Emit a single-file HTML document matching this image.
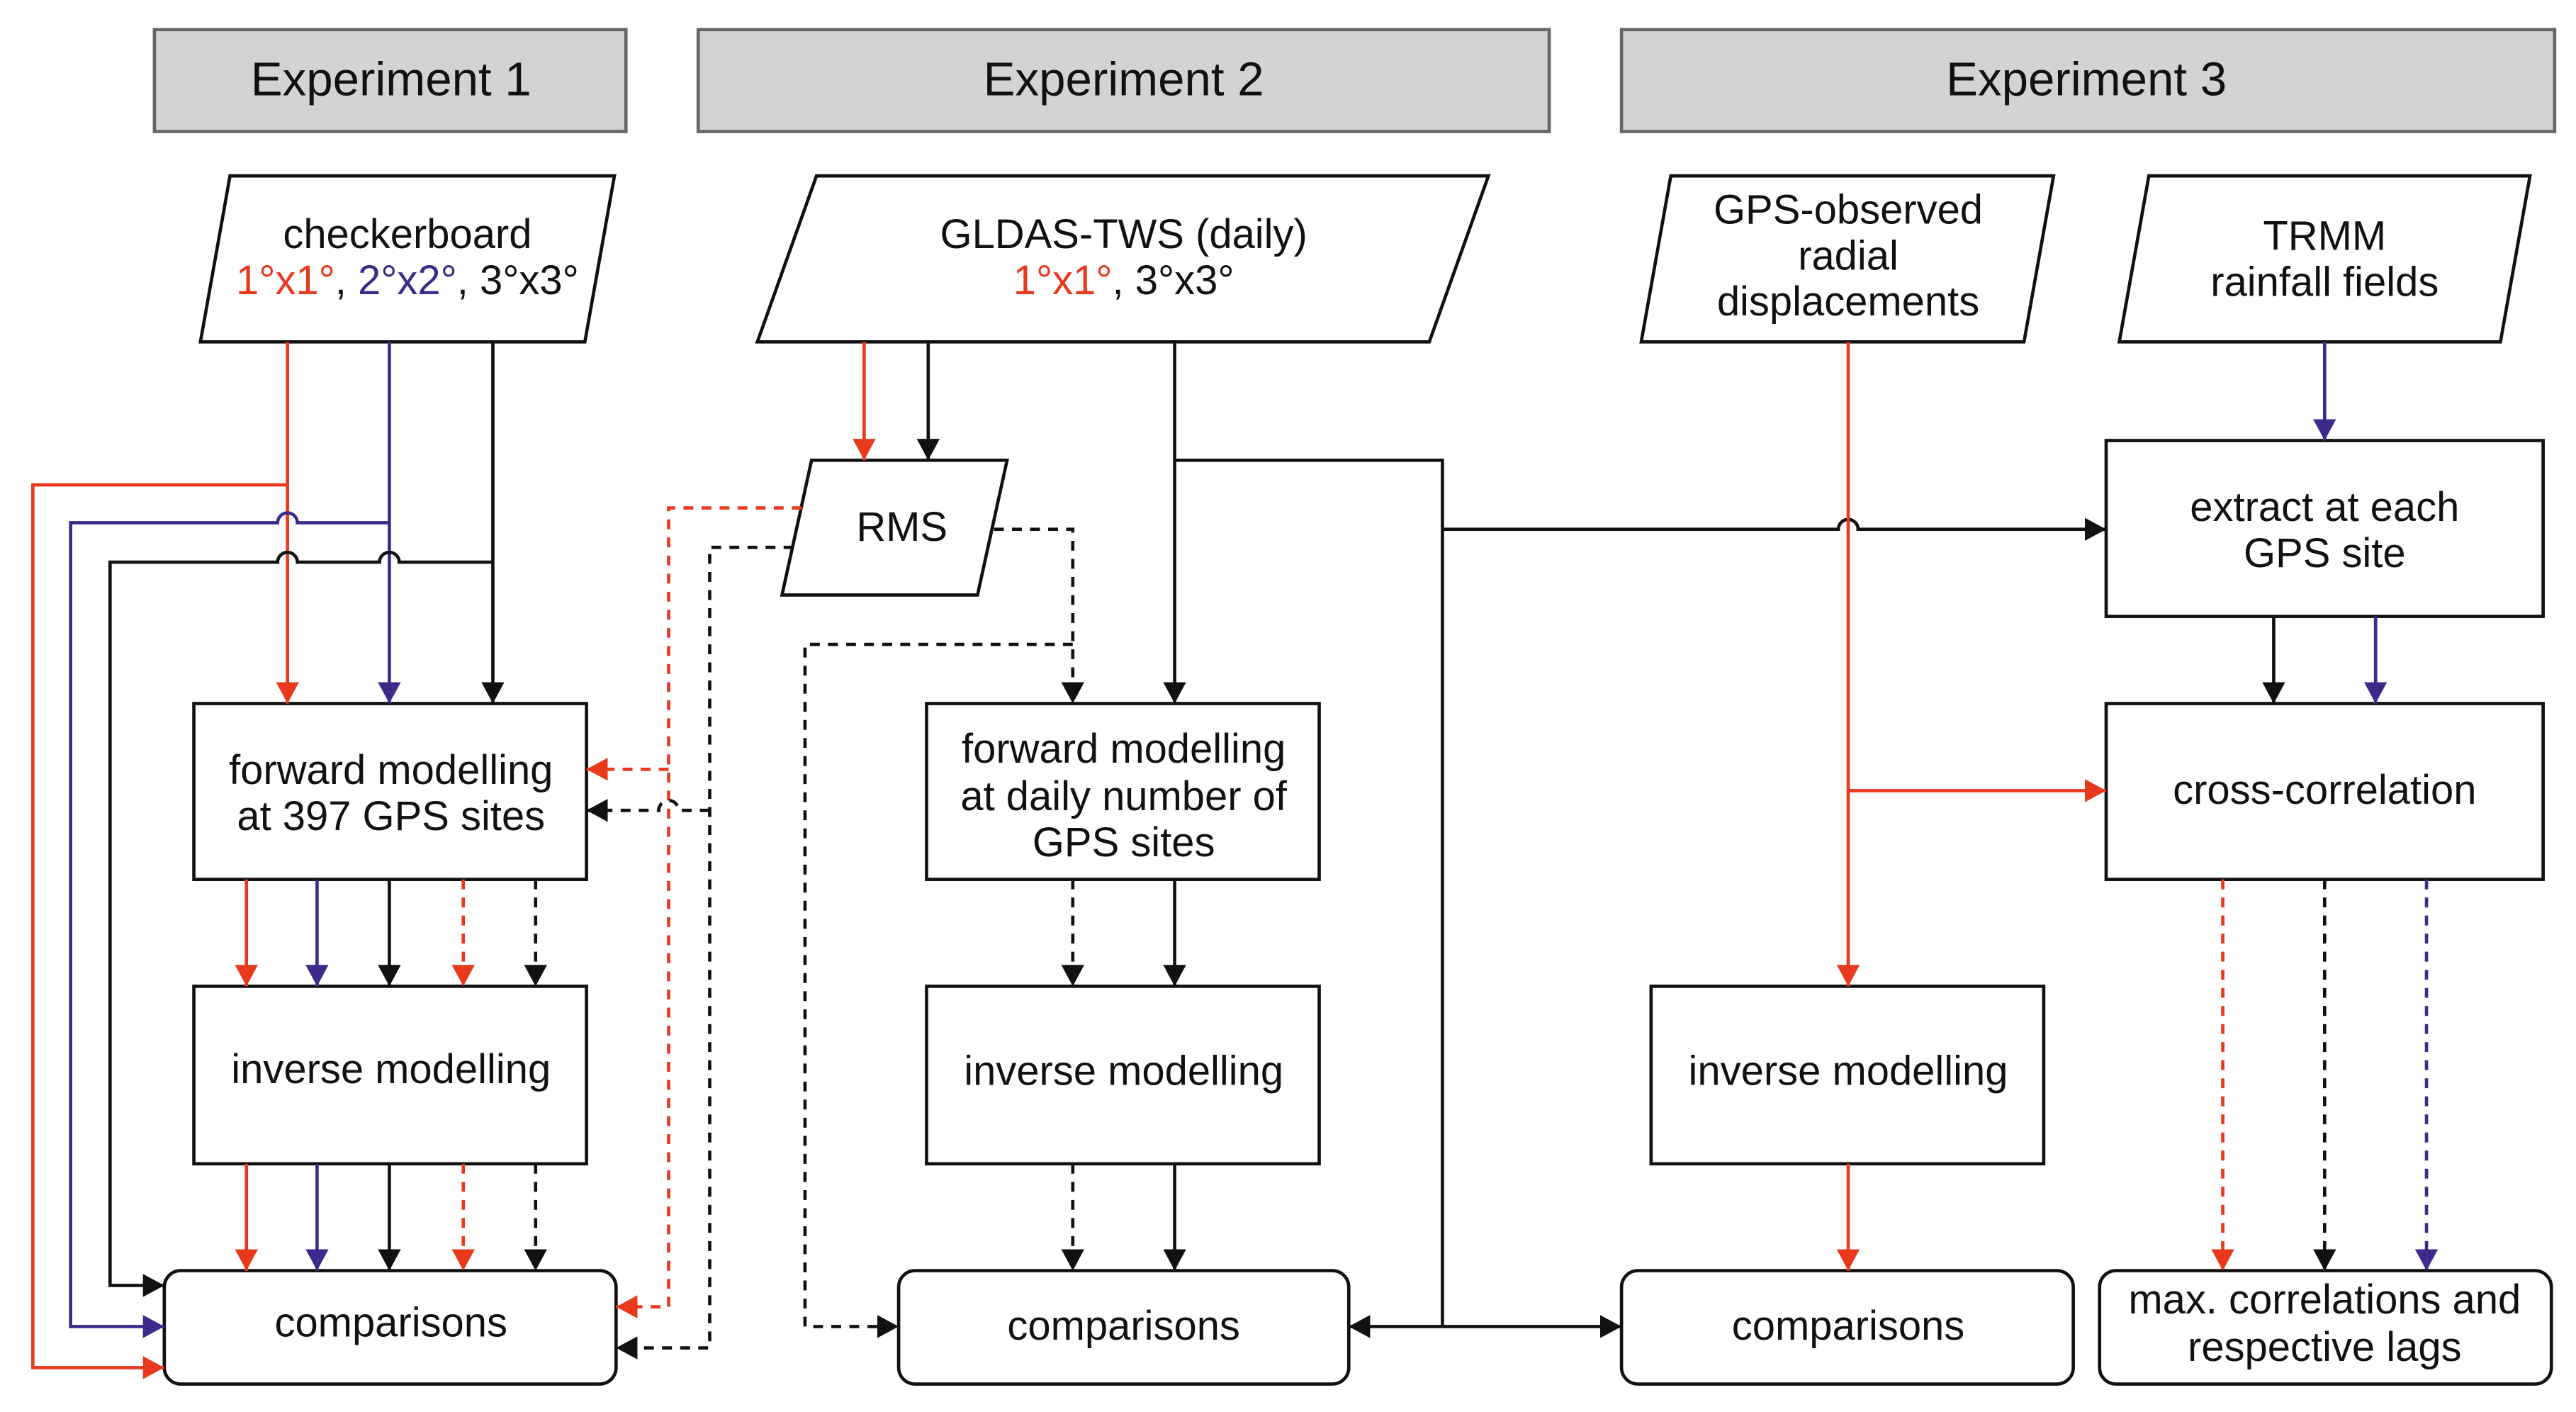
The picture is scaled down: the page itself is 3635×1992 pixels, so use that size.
<!DOCTYPE html>
<html><head><meta charset="utf-8"><style>
html,body{margin:0;padding:0;background:#fff;}
svg{display:block;}
text{font-family:"Liberation Sans",Arial,sans-serif;font-size:25px;fill:#111;text-anchor:middle;}
.h{font-size:29px;}
.k{stroke:#111;stroke-width:2;fill:none;}
.r{stroke:#e8391d;stroke-width:2;fill:none;}
.p{stroke:#3d2a8a;stroke-width:2;fill:none;}
.d{stroke-dasharray:6,5;}
.box{fill:#fff;stroke:#111;stroke-width:2;}
</style></head><body>
<svg width="3635" height="1992" viewBox="0 0 1568 859" preserveAspectRatio="none" xmlns="http://www.w3.org/2000/svg">
<defs>
<marker id="ak" markerUnits="userSpaceOnUse" markerWidth="14" markerHeight="14" refX="13" refY="7" orient="auto"><path d="M0,0 L13,7 L0,14 z" fill="#111"/></marker>
<marker id="ar" markerUnits="userSpaceOnUse" markerWidth="14" markerHeight="14" refX="13" refY="7" orient="auto"><path d="M0,0 L13,7 L0,14 z" fill="#e8391d"/></marker>
<marker id="ap" markerUnits="userSpaceOnUse" markerWidth="14" markerHeight="14" refX="13" refY="7" orient="auto"><path d="M0,0 L13,7 L0,14 z" fill="#3d2a8a"/></marker>
</defs>
<rect x="94" y="18" width="287" height="62" fill="#d3d3d3" stroke="#666" stroke-width="2"/>
<text class="h" x="238" y="58">Experiment 1</text>
<rect x="425" y="18" width="518" height="62" fill="#d3d3d3" stroke="#666" stroke-width="2"/>
<text class="h" x="684" y="58">Experiment 2</text>
<rect x="987" y="18" width="568" height="62" fill="#d3d3d3" stroke="#666" stroke-width="2"/>
<text class="h" x="1270" y="58">Experiment 3</text>

<polygon class="box" points="140,107 374,107 356,208 122,208"/>
<text x="248" y="151">checkerboard</text>
<text x="248" y="179"><tspan style="fill:#e8391d">1°x1°</tspan>, <tspan style="fill:#3d2a8a">2°x2°</tspan>, 3°x3°</text>
<polygon class="box" points="497,107 906,107 870,208 461,208"/>
<text x="684" y="151">GLDAS-TWS (daily)</text>
<text x="684" y="179"><tspan style="fill:#e8391d">1°x1°</tspan>, 3°x3°</text>
<polygon class="box" points="1017,107 1250,107 1232,208 999,208"/>
<text x="1125" y="136">GPS-observed</text>
<text x="1125" y="164">radial</text>
<text x="1125" y="192">displacements</text>
<polygon class="box" points="1308,107 1540,107 1522,208 1290,208"/>
<text x="1415" y="152">TRMM</text>
<text x="1415" y="180">rainfall fields</text>
<polygon class="box" points="494,280 613,280 595,362 476,362"/>
<text x="549" y="329">RMS</text>

<rect class="box" x="118" y="428" width="239" height="107"/>
<text x="238" y="477">forward modelling</text><text x="238" y="505">at 397 GPS sites</text>
<rect class="box" x="118" y="600" width="239" height="108"/>
<text x="238" y="659">inverse modelling</text>
<rect class="box" x="100" y="773" width="275" height="69" rx="10"/>
<text x="238" y="813">comparisons</text>
<rect class="box" x="564" y="428" width="239" height="107"/>
<text x="684" y="464">forward modelling</text><text x="684" y="493">at daily number of</text><text x="684" y="521">GPS sites</text>
<rect class="box" x="564" y="600" width="239" height="108"/>
<text x="684" y="660">inverse modelling</text>
<rect class="box" x="547" y="773" width="274" height="69" rx="10"/>
<text x="684" y="815">comparisons</text>
<rect class="box" x="1005" y="600" width="239" height="108"/>
<text x="1125" y="660">inverse modelling</text>
<rect class="box" x="987" y="773" width="275" height="69" rx="10"/>
<text x="1125" y="815">comparisons</text>
<rect class="box" x="1282" y="268" width="266" height="107"/>
<text x="1415" y="317">extract at each</text><text x="1415" y="345">GPS site</text>
<rect class="box" x="1282" y="428" width="266" height="107"/>
<text x="1415" y="489">cross-correlation</text>
<rect class="box" x="1278" y="773" width="275" height="69" rx="10"/>
<text x="1415" y="799">max. correlations and</text><text x="1415" y="828">respective lags</text>

<path class="r" d="M175,208 V428" marker-end="url(#ar)"/>
<path class="p" d="M237,208 V428" marker-end="url(#ap)"/>
<path class="k" d="M300,208 V428" marker-end="url(#ak)"/>
<path class="r" d="M175,295 H20 V832 H100" marker-end="url(#ar)"/>
<path class="p" d="M237,318 H181 A6,6 0 0 0 169,318 H43 V807 H100" marker-end="url(#ap)"/>
<path class="k" d="M300,342 H243 A6,6 0 0 0 231,342 H181 A6,6 0 0 0 169,342 H67 V782 H100" marker-end="url(#ak)"/>
<path class="r" d="M150,535 V600" marker-end="url(#ar)"/>
<path class="p" d="M193,535 V600" marker-end="url(#ap)"/>
<path class="k" d="M237,535 V600" marker-end="url(#ak)"/>
<path class="r d" d="M282,535 V600" marker-end="url(#ar)"/>
<path class="k d" d="M326,535 V600" marker-end="url(#ak)"/>
<path class="r" d="M150,708 V773" marker-end="url(#ar)"/>
<path class="p" d="M193,708 V773" marker-end="url(#ap)"/>
<path class="k" d="M237,708 V773" marker-end="url(#ak)"/>
<path class="r d" d="M282,708 V773" marker-end="url(#ar)"/>
<path class="k d" d="M326,708 V773" marker-end="url(#ak)"/>

<path class="r d" d="M488,309 H407 V795 H375" marker-end="url(#ar)"/>
<path class="r d" d="M407,468 H357" marker-end="url(#ar)"/>
<path class="k d" d="M483,333 H432 V820 H375" marker-end="url(#ak)"/>
<path class="k d" d="M432,493 H413 A6,6 0 0 0 401,493 H357" marker-end="url(#ak)"/>
<path class="k d" d="M605,322 H653 V428" marker-end="url(#ak)"/>
<path class="k d" d="M653,392 H490 V807 H547" marker-end="url(#ak)"/>

<path class="r" d="M526,208 V280" marker-end="url(#ar)"/>
<path class="k" d="M565,208 V280" marker-end="url(#ak)"/>
<path class="k" d="M715,208 V428" marker-end="url(#ak)"/>
<path class="k" d="M715,280 H878 V807"/>
<path class="k" d="M878,807 H821" marker-end="url(#ak)"/>
<path class="k" d="M878,807 H987" marker-end="url(#ak)"/>
<path class="k" d="M878,322 H1119 A6,6 0 0 1 1131,322 H1282" marker-end="url(#ak)"/>
<path class="k d" d="M653,535 V600" marker-end="url(#ak)"/>
<path class="k" d="M715,535 V600" marker-end="url(#ak)"/>
<path class="k d" d="M653,708 V773" marker-end="url(#ak)"/>
<path class="k" d="M715,708 V773" marker-end="url(#ak)"/>

<path class="r" d="M1125,208 V600" marker-end="url(#ar)"/>
<path class="r" d="M1125,481 H1282" marker-end="url(#ar)"/>
<path class="r" d="M1125,708 V773" marker-end="url(#ar)"/>
<path class="p" d="M1415,208 V268" marker-end="url(#ap)"/>
<path class="k" d="M1384,375 V428" marker-end="url(#ak)"/>
<path class="p" d="M1446,375 V428" marker-end="url(#ap)"/>
<path class="r d" d="M1353,535 V773" marker-end="url(#ar)"/>
<path class="k d" d="M1415,535 V773" marker-end="url(#ak)"/>
<path class="p d" d="M1477,535 V773" marker-end="url(#ap)"/>
</svg>
</body></html>
